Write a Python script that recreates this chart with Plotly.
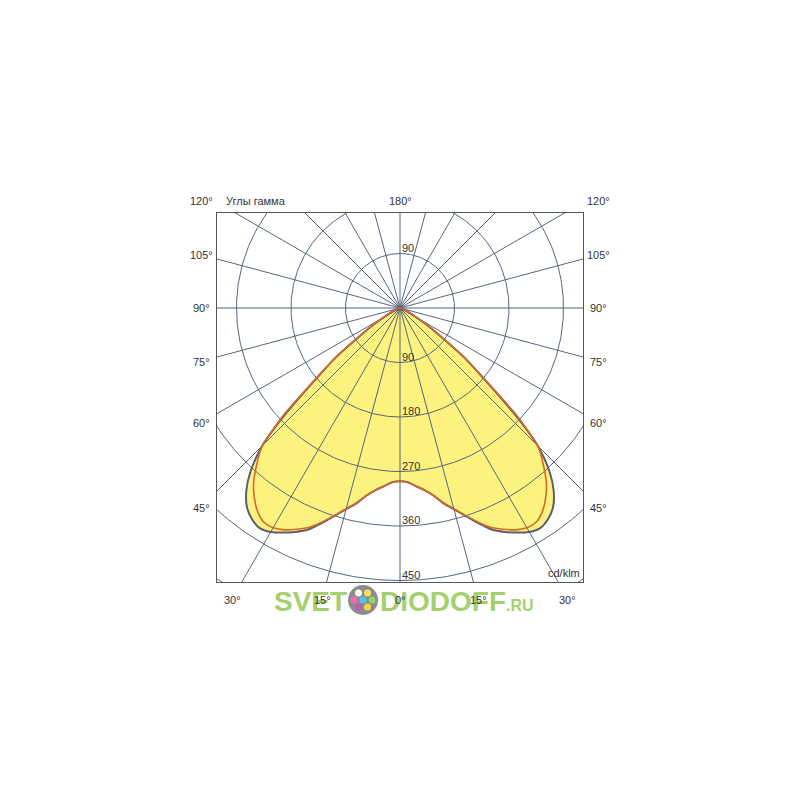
import numpy as np
import plotly.graph_objects as go

# ---------------- data ----------------
# gamma angle (deg from nadir) and luminous intensity (cd/klm), one half (symmetric curve)
gamma_deg = [0, 2.5, 5, 7.5, 10, 12.5, 15, 17.5, 20, 22.5, 25, 27.5, 30, 32.5, 35, 37.5,
             40, 42.5, 45, 46, 47.5, 50, 52.5, 55, 57.5, 60, 65, 70, 80, 90]
outer_cd = [286, 288, 295, 303, 314, 330, 344, 360, 378, 396, 408, 418, 427, 431, 426, 415,
            395, 365, 322, 295, 248, 178, 132, 84, 54, 33, 14, 6, 2, 0]
inner_cd = [286, 288, 295, 303, 314, 329, 343, 359, 376, 392, 403, 413, 419, 419, 410, 395,
            376, 350, 322, 297, 258, 180, 134, 85, 55, 34, 15, 6, 2, 0]

ring_values = [90, 180, 270, 360, 450, 540]
ring_labels = ["90", "180", "270", "360", "450"]
spoke_angles = list(range(0, 360, 15))

side_labels = ["120°", "105°", "90°", "75°", "60°", "45°"]
bottom_labels = ["30°", "15°", "0°", "15°", "30°"]

# ---------------- helpers ----------------
def to_xy(g, r):
    g = np.radians(np.asarray(g, dtype=float))
    r = np.asarray(r, dtype=float)
    return r * np.sin(g), -r * np.cos(g)

def full_curve(vals):
    g = [-a for a in gamma_deg[::-1]] + gamma_deg[1:]
    r = vals[::-1] + vals[1:]
    return to_xy(g, r)

GRID = "#56657f"
TXT = "#333333"
FONT = "Liberation Sans, Arial, sans-serif"

fig = go.Figure()

# yellow fill of outer curve
xo, yo = full_curve(outer_cd)
fig.add_trace(go.Scatter(x=xo, y=yo, mode="lines", fill="toself", fillcolor="#fbf37e",
                         line=dict(width=0, color="rgba(0,0,0,0)", shape="spline", smoothing=0.7),
                         hoverinfo="skip", showlegend=False))

# rings
th = np.linspace(0, 360, 361)
for rv in ring_values:
    xr, yr = to_xy(th, np.full_like(th, rv))
    fig.add_trace(go.Scatter(x=xr, y=yr, mode="lines", line=dict(color=GRID, width=1),
                             hoverinfo="skip", showlegend=False))
# spokes
for a in spoke_angles:
    xs, ys = to_xy([a, a], [0, 800])
    fig.add_trace(go.Scatter(x=xs, y=ys, mode="lines", line=dict(color=GRID, width=1),
                             hoverinfo="skip", showlegend=False))

# curves
fig.add_trace(go.Scatter(x=xo, y=yo, mode="lines",
                         line=dict(color="#5b5f6e", width=2, shape="spline", smoothing=0.7),
                         hoverinfo="skip", showlegend=False))
xi, yi = full_curve(inner_cd)
fig.add_trace(go.Scatter(x=xi, y=yi, mode="lines",
                         line=dict(color="#d4692e", width=1.6, shape="spline", smoothing=0.7),
                         hoverinfo="skip", showlegend=False))

# ---------------- layout ----------------
OFF = 8  # page body margin
W = H = 800
FL, FR, FT, FB = 217, 583, 213, 582  # frame position on screen
L, T = FL - OFF, FT - OFF
R = W - (FR - OFF)
B = H - (FB - OFF)
PX = 0.6056  # pixels per cd/klm
CX, CY = 400, 308
fig.update_layout(
    width=W, height=H, margin=dict(l=L, r=R, t=T, b=B),
    paper_bgcolor="white", plot_bgcolor="white", showlegend=False,
    xaxis=dict(range=[(FL - CX) / PX, (FR - CX) / PX], showgrid=False, zeroline=False,
               showticklabels=False, ticks="", showline=True, mirror=True,
               linecolor="#555555", linewidth=1),
    yaxis=dict(range=[-(FB - CY) / PX, (CY - FT) / PX], showgrid=False, zeroline=False,
               showticklabels=False, ticks="", showline=True, mirror=True,
               linecolor="#555555", linewidth=1),
    font=dict(family=FONT, size=11, color=TXT),
)

def px2paper(px, py):
    return (px - FL) / (FR - FL), (FB - py) / (FB - FT)

ann = []
def add_text(text, px, py, xanchor="center", size=11, color=TXT, **kw):
    x, y = px2paper(px, py)
    ann.append(dict(text=text, x=x, y=y, xref="paper", yref="paper", showarrow=False,
                    xanchor=xanchor, yanchor="middle", font=dict(size=size, color=color, family=FONT), **kw))

# watermark (drawn first, labels on top)
GREEN = "#a6d06e"
add_text("<b>SVET</b>", 349, 601, xanchor="right", size=28, color=GREEN)
add_text("<b>DIODOFF</b>", 378, 601, xanchor="left", size=28, color=GREEN)
add_text("<b>.RU</b>", 504, 605, xanchor="left", size=16, color=GREEN)

side_y = [201, 255, 308, 362, 423, 508]
for lab, py in zip(side_labels, side_y):
    add_text(lab, 201, py)
    add_text(lab, 598, py)
bottom_x = [232, 322, 400, 478, 567]
for lab, px in zip(bottom_labels, bottom_x):
    add_text(lab, px, 600)
add_text("Углы гамма", 224, 201, xanchor="left")
add_text("180°", 400, 201)
add_text("cd/klm", 582, 573, xanchor="right")

# ring labels (on the radial axis)
for lab, rv in zip(ring_labels, ring_values):
    ann.append(dict(text=lab, x=0, y=-rv, xref="x", yref="y", showarrow=False, xanchor="left",
                    yanchor="bottom", yshift=-2, font=dict(size=11, color=TXT, family=FONT)))
ann.append(dict(text=ring_labels[0], x=0, y=ring_values[0], xref="x", yref="y", showarrow=False,
                xanchor="left", yanchor="bottom", yshift=-2, font=dict(size=11, color=TXT, family=FONT)))

shapes = []
lx, ly = px2paper(363, 600)
shapes.append(dict(type="circle", xref="paper", yref="paper", xsizemode="pixel", ysizemode="pixel",
                   xanchor=lx, yanchor=ly, x0=-15, x1=15, y0=-15, y1=15,
                   fillcolor="#8c8c8c", line=dict(width=0), layer="above"))
dots = [(-4.5, 7, "#ffffff"), (4.5, 7, "#f3e35a"), (-9, 0, "#f26aa6"), (0, 0, "#4cc6ee"),
        (9, 0, "#8fd36a"), (-4.5, -7, "#c45ab8"), (4.5, -7, "#f5d34a")]
for dx, dy, c in dots:
    shapes.append(dict(type="circle", xref="paper", yref="paper", xsizemode="pixel", ysizemode="pixel",
                       xanchor=lx, yanchor=ly, x0=dx - 3.5, x1=dx + 3.5, y0=dy - 3.5, y1=dy + 3.5,
                       fillcolor=c, line=dict(width=0), layer="above"))

fig.update_layout(annotations=ann, shapes=shapes)
fig.write_html("out.html")
